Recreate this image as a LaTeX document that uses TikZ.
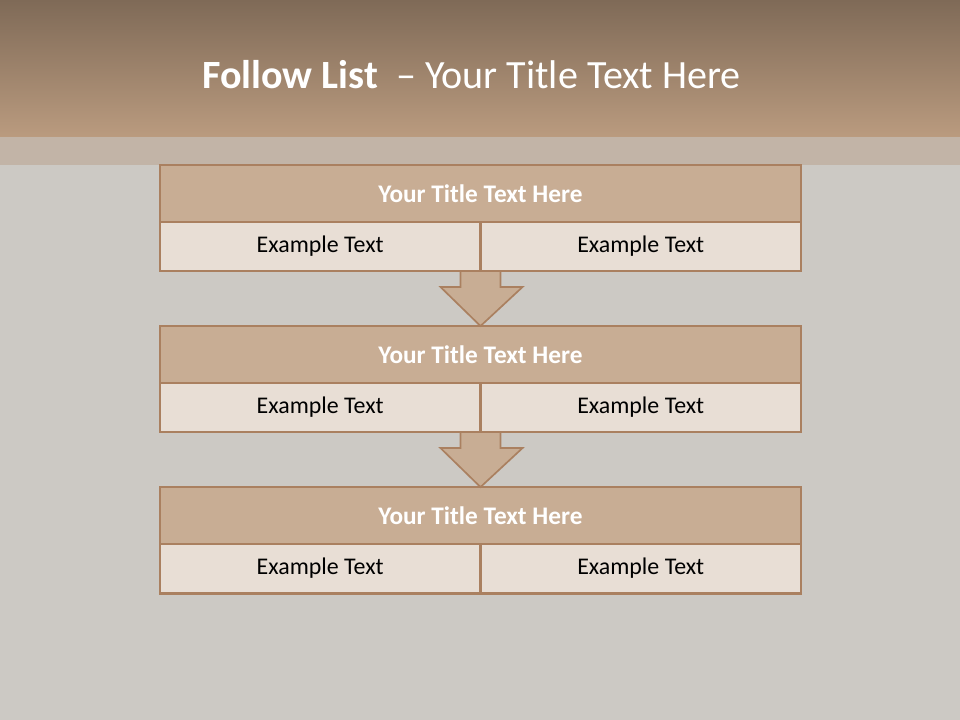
\documentclass[tikz,border=0pt]{standalone}
\usepackage{fontspec}
\setmainfont{Carlito}
\usetikzlibrary{positioning,calc}

\definecolor{bandtop}{RGB}{127,106,87}
\definecolor{bandbot}{RGB}{186,155,127}
\definecolor{stripe}{RGB}{194,180,167}
\definecolor{slidebg}{RGB}{204,201,196}
\definecolor{edge}{RGB}{170,128,96}
\definecolor{headfill}{RGB}{200,173,148}
\definecolor{cellfill}{RGB}{232,222,213}

\tikzset{
  headbox/.style={draw=edge, fill=headfill, line width=2pt, outer sep=0pt,
    minimum width=16.025cm, minimum height=1.425cm, text=white,
    font=\fontsize{18}{21}\selectfont\bfseries},
  cellbox/.style={draw=edge, fill=cellfill, line width=2pt, outer sep=0pt,
    minimum width=8.0125cm, minimum height=1.225cm, text=black,
    font=\fontsize{17}{20}\selectfont},
  downarrow/.style={fill=headfill, draw=edge, line width=1.2pt, line join=miter}
}

\begin{document}
\begin{tikzpicture}[x=0.025cm,y=-0.025cm]
\useasboundingbox (0,0) rectangle (960,720);
% slide background
\fill[slidebg] (0,0) rectangle (960,720);
\shade[top color=bandtop, bottom color=bandbot] (0,0) rectangle (960,137);
\fill[stripe] (0,137) rectangle (960,165);
\node[text=white, font=\fontsize{28.5}{32}\selectfont] (title) at (471.5,75)
  {\textbf{Follow List}\ \ -- Your Title Text Here};

% first block
\node[headbox] (head1) at (480.5,193.5) {Your Title Text Here};
\node[cellbox, below right=0pt and 0pt of head1.south west] (cell1l) {Example Text};
\node[cellbox, below left=0pt and 0pt of head1.south east] (cell1r) {Example Text};

% second block
\node[headbox, below=1.375cm of cell1l.south east] (head2) {Your Title Text Here};
\node[cellbox, below right=0pt and 0pt of head2.south west] (cell2l) {Example Text};
\node[cellbox, below left=0pt and 0pt of head2.south east] (cell2r) {Example Text};

% third block
\node[headbox, below=1.375cm of cell2l.south east] (head3) {Your Title Text Here};
\node[cellbox, below right=0pt and 0pt of head3.south west] (cell3l) {Example Text};
\node[cellbox, below left=0pt and 0pt of head3.south east] (cell3r) {Example Text};

% arrows between blocks
\draw[downarrow] ($(cell1l.south east)+(-20,0)$) -- ++(0,16) -- ++(-20,0)
  -- (head2.north) -- ($(cell1l.south east)+(42,16)$) -- ++(-22,0)
  -- ($(cell1l.south east)+(20,0)$) -- cycle;
\draw[downarrow] ($(cell2l.south east)+(-20,0)$) -- ++(0,16) -- ++(-20,0)
  -- (head3.north) -- ($(cell2l.south east)+(42,16)$) -- ++(-22,0)
  -- ($(cell2l.south east)+(20,0)$) -- cycle;
\end{tikzpicture}
\end{document}
